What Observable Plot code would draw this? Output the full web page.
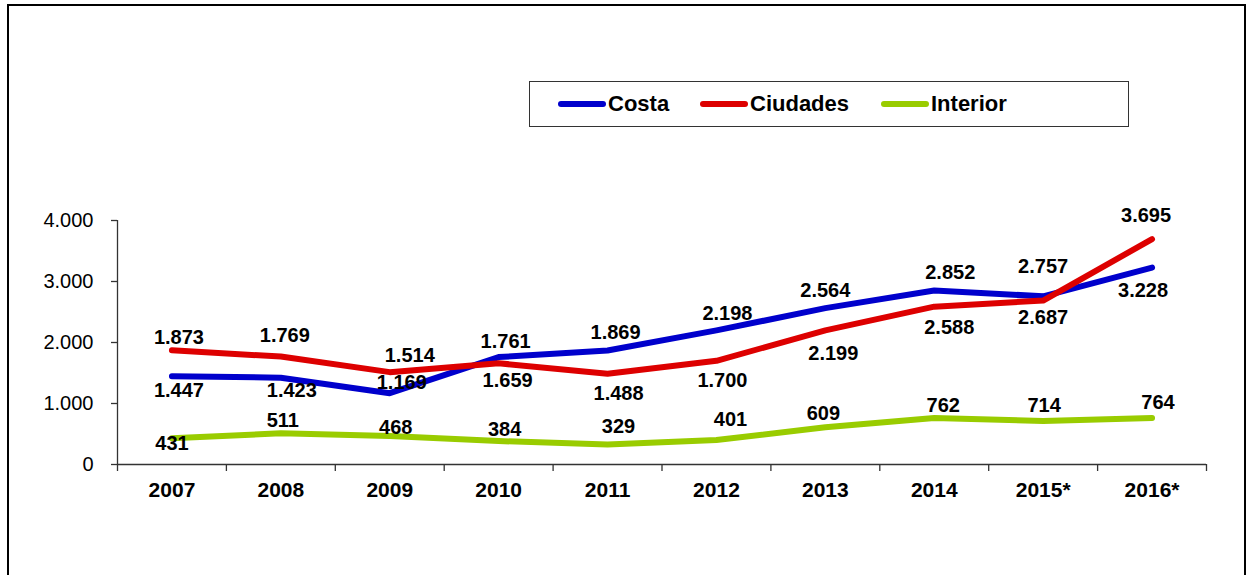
<!DOCTYPE html>
<html>
<head>
<meta charset="utf-8">
<script src="https://cdn.jsdelivr.net/npm/d3@7"></script>
<script src="https://cdn.jsdelivr.net/npm/@observablehq/plot@0.6"></script>
<style>
  html, body { margin: 0; padding: 0; background: #fff; }
  #wrap { position: relative; width: 1247px; height: 575px; overflow: hidden; font-family: Arial, "Liberation Sans", sans-serif; }
  #frame { position: absolute; left: 7px; top: 4px; width: 1235px; height: 600px; border-top: 2px solid #000; border-left: 2px solid #000; border-right: 2px solid #000; }
  #legend { position: absolute; left: 529px; top: 81px; width: 598px; height: 44px; border: 1.5px solid #333; background: #fff; }
  .item { position: absolute; top: 0; height: 44px; display: flex; align-items: center; font-weight: bold; font-size: 22px; color: #000; }
  .sw { width: 48px; height: 6px; border-radius: 3px; margin-right: 2px; }
  svg { position: absolute; left: 0; top: 0; }
</style>
</head>
<body>
<div id="wrap">
  <div id="frame"></div>
  <div id="chart"></div>
  <div id="legend"></div>
</div>
<script>
// ---- data ----
const years = ["2007", "2008", "2009", "2010", "2011", "2012", "2013", "2014", "2015*", "2016*"];
const costa = [1447, 1423, 1169, 1761, 1869, 2198, 2564, 2852, 2757, 3228];
const ciudades = [1873, 1769, 1514, 1659, 1488, 1700, 2199, 2588, 2687, 3695];
const interior = [431, 511, 468, 384, 329, 401, 609, 762, 714, 764];
const seriesNames = ["Costa", "Ciudades", "Interior"];
const yTicks = [0, 1000, 2000, 3000, 4000];

// ---- styling (label nudges, in pixels, relative to each point) ----
const seriesColors = ["#0000CC", "#DD0000", "#99CC00"];
const labelDx = [
  [7, 11, 12, 7, 8, 11, 0, 16, 0, -9],
  [7, 4, 20, 9, 11, 6, 8, 15, 0, -6],
  [0, 2, 6, 6, 11, 14, -2, 9, 1, 6]
];
const labelDy = [
  [14, 13, -11, -15, -18, -17, -18, -18, -30, 23],
  [-13, -21, -17, 17, 20, 20, 23, 21, 17, -24],
  [5, -13, -8, -11, -18, -20, -14, -12, -15, -15]
];

const fmt = d => d3.format(",")(d).replace(/,/g, ".");
const values = [costa, ciudades, interior];
const rows = [];
seriesNames.forEach((s, k) => {
  years.forEach((y, i) => {
    rows.push({series: s, k, idx: i, i: i + 0.5, v: values[k][i]});
  });
});
const boundaries = d3.range(0, years.length + 1);
const centers = years.map((_, i) => i + 0.5);

const lineMarks = seriesNames.map((s, k) => Plot.line(rows.filter(r => r.k === k), {
  x: "i", y: "v", stroke: seriesColors[k], strokeWidth: 6,
  strokeLinejoin: "round", strokeLinecap: "round"
}));

const labelMarks = [];
seriesNames.forEach((s, k) => {
  rows.filter(r => r.k === k).forEach(r => {
    labelMarks.push(Plot.text([r], {
      x: "i", y: "v", text: d => fmt(d.v),
      dx: labelDx[k][r.idx], dy: labelDy[k][r.idx],
      fontSize: 20, fontWeight: "bold", fill: "#000"
    }));
  });
});

const chart = Plot.plot({
  width: 1247,
  height: 575,
  marginLeft: 117,
  marginRight: 41,
  marginTop: 220,
  marginBottom: 111,
  style: {fontFamily: "Arial, 'Liberation Sans', sans-serif", background: "transparent", overflow: "visible"},
  x: {domain: [0, years.length], axis: null},
  y: {domain: [0, 4000], axis: null},
  marks: [
    Plot.ruleY([0], {x1: 0, x2: years.length, stroke: "#333", strokeWidth: 1.3}),
    Plot.ruleX([0], {y1: 0, y2: 4000, stroke: "#333", strokeWidth: 1.3}),
    Plot.axisY({ticks: yTicks, tickFormat: fmt, tickSize: 6, tickPadding: 18, fontSize: 20, stroke: "#333", strokeWidth: 1.3, color: "#000", label: null}),
    Plot.axisX({ticks: boundaries, tickFormat: () => "", tickSize: 7, stroke: "#333", strokeWidth: 1.3, label: null}),
    Plot.axisX({ticks: centers, tickFormat: (d) => years[Math.round(d - 0.5)], tickSize: 0, tickPadding: 18, fontSize: 21, fontWeight: "bold", color: "#000", label: null}),
    ...lineMarks,
    ...labelMarks
  ]
});
document.getElementById("chart").appendChild(chart);

const legend = document.getElementById("legend");
const itemLefts = [28, 170, 351];
seriesNames.forEach((s, k) => {
  const it = document.createElement("div");
  it.className = "item";
  it.style.left = itemLefts[k] + "px";
  const sw = document.createElement("div");
  sw.className = "sw";
  sw.style.background = seriesColors[k];
  it.appendChild(sw);
  const t = document.createElement("span");
  t.textContent = s;
  it.appendChild(t);
  legend.appendChild(it);
});
</script>
</body>
</html>
